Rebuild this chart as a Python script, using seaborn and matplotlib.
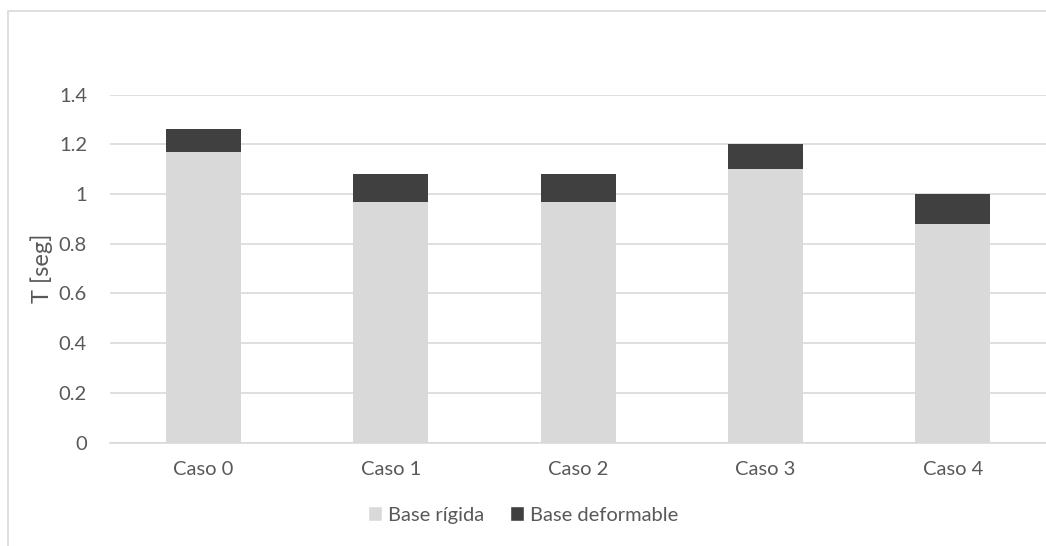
import matplotlib
matplotlib.use("Agg")
import matplotlib.pyplot as plt
import seaborn as sns
import pandas as pd
from matplotlib.patches import Patch, Rectangle

casos = ["Caso 0", "Caso 1", "Caso 2", "Caso 3", "Caso 4"]
base_rigida = [1.17, 0.97, 0.97, 1.10, 0.88]
base_deformable = [1.26, 1.08, 1.08, 1.20, 1.00]
y_ticks = [0, 0.2, 0.4, 0.6, 0.8, 1, 1.2, 1.4]
y_tick_labels = ["0", "0.2", "0.4", "0.6", "0.8", "1", "1.2", "1.4"]

sns.set_theme(style="white")
plt.rcParams["font.family"] = ["Lato", "DejaVu Sans"]

text_color = "#595959"
grid_color = "#d9d9d9"
c_rigida = "#d9d9d9"
c_deform = "#404040"
fs = 14.5

df = pd.DataFrame({"caso": casos, "rigida": base_rigida, "deformable": base_deformable})

W, H = 1046, 546
fig = plt.figure(figsize=(W / 100, H / 100), dpi=100)
ax = fig.add_axes([110 / W, 1 - 442.5 / H, 936.5 / W, (442.5 - 94.7) / H])

# full period on the flexible base, with the rigid-base part drawn over it
sns.barplot(data=df, x="caso", y="deformable", color=c_deform, width=0.4,
            saturation=1, ax=ax, zorder=2)
sns.barplot(data=df, x="caso", y="rigida", color=c_rigida, width=0.4,
            saturation=1, ax=ax, zorder=3)
for p in ax.patches:
    p.set_edgecolor("none")

ax.set_xlim(-0.5, 4.5)
ax.set_ylim(0, 1.4)
ax.set_yticks(y_ticks)
ax.set_yticklabels(y_tick_labels)
ax.yaxis.grid(True, color=grid_color, linewidth=1.2, zorder=0)
ax.set_axisbelow(True)
for s in ["top", "right", "left"]:
    ax.spines[s].set_visible(False)
ax.spines["bottom"].set_color(grid_color)
ax.spines["bottom"].set_linewidth(1.2)
ax.tick_params(axis="both", length=0, labelsize=fs, colors=text_color)
ax.tick_params(axis="y", pad=16.5)
ax.tick_params(axis="x", pad=13)
ax.set_xlabel("")
ax.set_ylabel("T [seg]", fontsize=17, color=text_color, labelpad=4)

handles = [Patch(facecolor=c_rigida, label="Base rígida"),
           Patch(facecolor=c_deform, label="Base deformable")]
fig.legend(handles=handles, loc="center", bbox_to_anchor=(0.5, 1 - 515 / H),
           ncol=2, frameon=False, fontsize=fs, labelcolor=text_color,
           handlelength=0.7, handleheight=0.7, handletextpad=0.3, columnspacing=1.3)

# chart frame, open at the right and bottom edges
fig.patches.append(Rectangle((8 / W, -0.1), 1.2, 1.1 - 11 / H,
                             transform=fig.transFigure, fill=False,
                             edgecolor=grid_color, linewidth=1.2))

fig.savefig("out.png", dpi=100)
